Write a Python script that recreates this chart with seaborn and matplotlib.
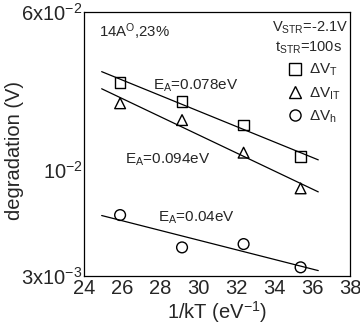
import numpy as np
import pandas as pd
import matplotlib
matplotlib.use("Agg")
import matplotlib.pyplot as plt
from matplotlib.ticker import FixedLocator, NullFormatter
import seaborn as sns

# ---- data ----
inv_kT = [25.9, 29.16, 32.4, 35.4]
dVT = [0.0270, 0.0217, 0.01665, 0.01162]
dVIT = [0.0213, 0.0176, 0.01216, 0.00811]
dVh = [0.00599, 0.00415, 0.00431, 0.00331]
fit_range = [24.93, 36.33]
series_labels = [r"$\Delta$V$_{\rm T}$", r"$\Delta$V$_{\rm IT}$", r"$\Delta$V$_{\rm h}$"]
markers = ["s", "^", "o"]
ea_labels = [r"E$_{\rm A}$=0.078eV", r"E$_{\rm A}$=0.094eV", r"E$_{\rm A}$=0.04eV"]
y_major = [3e-3, 1e-2, 6e-2]
y_major_labels = [r"3x10$^{-3}$", r"10$^{-2}$", r"6x10$^{-2}$"]
y_minor = [4e-3, 5e-3, 6e-3, 7e-3, 8e-3, 9e-3, 2e-2, 3e-2, 4e-2, 5e-2]
x_major = [24, 26, 28, 30, 32, 34, 36, 38]
x_minor = [25, 27, 29, 31, 33, 35, 37]

sns.set_style("white")
plt.rcParams["font.family"] = ["Liberation Sans", "DejaVu Sans"]
plt.rcParams["mathtext.fontset"] = "custom"
plt.rcParams["mathtext.rm"] = "Liberation Sans"
plt.rcParams["mathtext.it"] = "Liberation Sans:italic"
plt.rcParams["mathtext.default"] = "regular"

fig = plt.figure(figsize=(3.6, 3.32), dpi=100)
ax = fig.add_axes([84 / 360, 1 - 276 / 332, 266 / 360, 264 / 332])


def ylog(px):
    return 10 ** (-2.5229 + (276 - px) / 202.9)


series = [dVT, dVIT, dVh]
handles = []
for vals, mk, lab in zip(series, markers, series_labels):
    df = pd.DataFrame({"x": inv_kT, "y": vals})
    p = np.polyfit(df["x"], np.log10(df["y"]), 1)
    fx = np.array(fit_range)
    fy = 10 ** np.polyval(p, fx)
    sns.lineplot(x=fx, y=fy, ax=ax, color="black", lw=0.9, legend=False)
    sns.scatterplot(data=df, x="x", y="y", ax=ax, marker=mk, s=60,
                    facecolor="none", edgecolor="black", linewidth=1.0, legend=False)
    h, = ax.plot([], [], linestyle="none", marker=mk, markersize=8,
                 markerfacecolor="none", markeredgecolor="black", markeredgewidth=1.0)
    handles.append(h)

ax.set_yscale("log")
ax.set_xlim(24, 38)
ax.set_ylim(3e-3, 6e-2)

ax.yaxis.set_major_locator(FixedLocator(y_major))
ax.set_yticklabels(y_major_labels)
ax.yaxis.set_minor_locator(FixedLocator(y_minor))
ax.yaxis.set_minor_formatter(NullFormatter())
ax.xaxis.set_major_locator(FixedLocator(x_major))
ax.set_xticklabels([str(v) for v in x_major])
ax.xaxis.set_minor_locator(FixedLocator(x_minor))

ax.tick_params(axis="both", which="both", direction="in", top=False, right=False,
               color="black", width=0.8)
ax.tick_params(axis="both", which="major", length=5, labelsize=14.5)
ax.tick_params(axis="both", which="minor", length=3)
ax.tick_params(axis="y", which="major", pad=1)
ax.tick_params(axis="x", which="major", pad=2)

for s in ax.spines.values():
    s.set_visible(True)
    s.set_color("black")
    s.set_linewidth(0.9)

ax.set_xlabel(r"1/kT (eV$^{-1}$)", fontsize=14.5, labelpad=1)
ax.set_ylabel("degradation (V)", fontsize=14.5)
ax.yaxis.set_label_coords(-0.225, 0.477)

# annotations
ax.text(24.8, ylog(37), r"14A$^{\rm O}$,23%", fontsize=10.8, ha="left", va="baseline")
ax.text(0.992, ylog(32), r"V$_{\rm STR}$=-2.1V",
        transform=ax.get_yaxis_transform(), fontsize=10.5, ha="right", va="baseline")
ax.text(0.97, ylog(52), r"t$_{\rm STR}$=100s",
        transform=ax.get_yaxis_transform(), fontsize=10.5, ha="right", va="baseline")

ea_pos = [(27.63, 90), (26.15, 164), (27.9, 222)]
for (xx, ypx), lab in zip(ea_pos, ea_labels):
    ax.text(xx, ylog(ypx), lab, fontsize=11, ha="left", va="baseline")

leg = ax.legend(handles, series_labels, loc="upper right", frameon=False,
                bbox_to_anchor=(1.0, 0.845), fontsize=11, handletextpad=0.3,
                labelspacing=0.45, handlelength=1.2, borderaxespad=0.2)

fig.savefig("out.png", dpi=100)
